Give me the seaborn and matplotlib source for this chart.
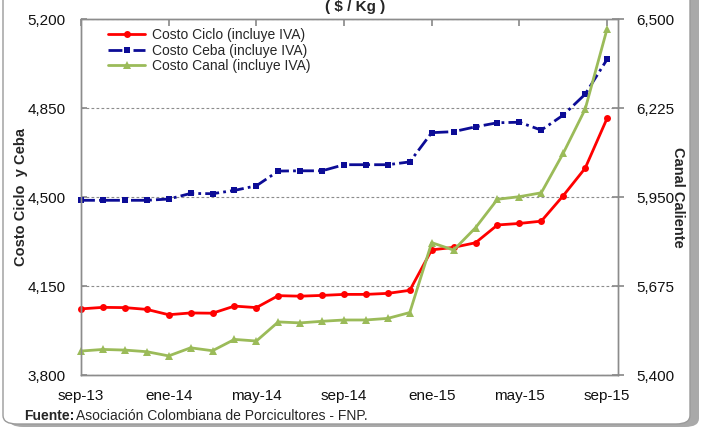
import numpy as np
import pandas as pd
import matplotlib
matplotlib.use('Agg')
import matplotlib.pyplot as plt
from matplotlib.patches import FancyBboxPatch
import seaborn as sns

# Monthly data, sep-13 .. sep-15 ($ / Kg)
meses = pd.date_range('2013-09-01', '2015-09-01', freq='MS')
costo_ciclo = [4060, 4066, 4065, 4058, 4037, 4044, 4043, 4071, 4065, 4112, 4110, 4113, 4117,
               4117, 4121, 4133, 4292, 4302, 4320, 4390, 4396, 4405, 4505, 4613, 4809]
costo_ceba = [4487, 4487, 4487, 4487, 4492, 4514, 4513, 4526, 4544, 4602, 4603, 4603, 4627,
              4627, 4627, 4638, 4753, 4757, 4776, 4792, 4794, 4763, 4822, 4904, 5041]
costo_canal = [5474, 5479, 5477, 5472, 5459, 5484, 5475, 5510, 5505, 5564, 5561, 5566, 5570,
               5570, 5575, 5593, 5809, 5786, 5855, 5943, 5951, 5963, 6085, 6221, 6469]
etiquetas_x = ['sep-13', 'ene-14', 'may-14', 'sep-14', 'ene-15', 'may-15', 'sep-15']
ticks_izq = [3800, 4150, 4500, 4850, 5200]
ticks_der = [5400, 5675, 5950, 6225, 6500]

df = pd.DataFrame({'idx': np.arange(len(meses)), 'ciclo': costo_ciclo,
                   'ceba': costo_ceba, 'canal': costo_canal})

sns.set_theme(style='white')
plt.rcParams['font.family'] = ['Liberation Sans', 'DejaVu Sans']

fig = plt.figure(figsize=(7.04, 4.28), dpi=100)

# outer frame with shadow (behind the axes)
sombra = FancyBboxPatch((9 / 704, 1 / 428), 690 / 704, 1.2, transform=fig.transFigure,
                        boxstyle='round,pad=0,rounding_size=0.02', fc='#a9a9a9', ec='none', zorder=-3)
marco = FancyBboxPatch((3 / 704, 4 / 428), 687 / 704, 1.2, transform=fig.transFigure,
                       boxstyle='round,pad=0,rounding_size=0.02', fc='white', ec='#9a9a9a', lw=1, zorder=-2)
fig.patches.extend([sombra, marco])

ax = fig.add_axes([81 / 704, 1 - 375 / 428, 537 / 704, 356 / 428])
ax2 = ax.twinx()

sns.lineplot(data=df, x='idx', y='ciclo', ax=ax, color='#ff0000', lw=2, marker='o',
             markersize=5, markeredgewidth=0, clip_on=False, label='Costo Ciclo (incluye IVA)')
sns.lineplot(data=df, x='idx', y='ceba', ax=ax, color='#0c0c96', lw=2, marker='s',
             markersize=4, markeredgewidth=0, linestyle=(0, (5, 1.5, 1, 1.5)), clip_on=False,
             label='Costo Ceba (incluye IVA)')
sns.lineplot(data=df, x='idx', y='canal', ax=ax2, color='#9bbb59', lw=2, marker='^',
             markersize=5.5, markeredgewidth=0, clip_on=False, label='Costo Canal (incluye IVA)')

ax.set_xlim(0, 24.5)
ax.set_ylim(3800, 5200)
ax2.set_ylim(5400, 6500)
ax.set_yticks(ticks_izq)
ax.set_yticklabels([f'{v:,}' for v in ticks_izq])
ax2.set_yticks(ticks_der)
ax2.set_yticklabels([f'{v:,}' for v in ticks_der])
ax.set_xticks(np.arange(0, 25, 4))
ax.set_xticklabels(etiquetas_x)

ax.yaxis.grid(True, color='#8c8c8c', linestyle=(0, (2.5, 2)), lw=0.8)
ax.xaxis.grid(False)
ax2.grid(False)

for a in (ax, ax2):
    for s in a.spines.values():
        s.set_color('#8c8c8c')
        s.set_linewidth(1)
        s.set_visible(True)

ax.tick_params(axis='x', bottom=False, top=True, direction='in', length=5, color='#8c8c8c',
               labelsize=11, pad=10, labelcolor='#111111')
ax.tick_params(axis='y', left=True, direction='in', length=4, color='#8c8c8c',
               labelsize=11, pad=11, labelcolor='#111111')
ax2.tick_params(axis='y', right=True, direction='inout', length=8, color='#8c8c8c',
                labelsize=11, pad=9, labelcolor='#111111')

ax.set_xlabel('')
ax.set_ylabel('Costo Ciclo  y Ceba', fontsize=10.5, fontweight='bold', labelpad=0)
ax2.set_ylabel('Canal Caliente', fontsize=10.5, fontweight='bold', rotation=-90, labelpad=8)

h1, l1 = ax.get_legend_handles_labels()
h2, l2 = ax2.get_legend_handles_labels()
if ax2.get_legend():
    ax2.get_legend().remove()
ax.legend(h1 + h2, l1 + l2, loc='upper left', bbox_to_anchor=(0.05, 0.975), frameon=False,
          fontsize=10, borderaxespad=0, borderpad=0, handlelength=2.7, handletextpad=0.5,
          labelspacing=0.12)

fig.text(0.505, 1 - 7 / 428, '( $ / Kg )', ha='center', va='center', fontsize=11, fontweight='bold')

# source note
t1 = fig.text(24 / 704, 1 - 416 / 428, 'Fuente:', ha='left', va='center', fontsize=10, fontweight='bold')
fig.canvas.draw()
bb = t1.get_window_extent(renderer=fig.canvas.get_renderer())
fig.text((bb.x1 + 2) / 704, 1 - 416 / 428, 'Asociación Colombiana de Porcicultores - FNP.',
         ha='left', va='center', fontsize=10)

fig.savefig('out.png', dpi=100)
